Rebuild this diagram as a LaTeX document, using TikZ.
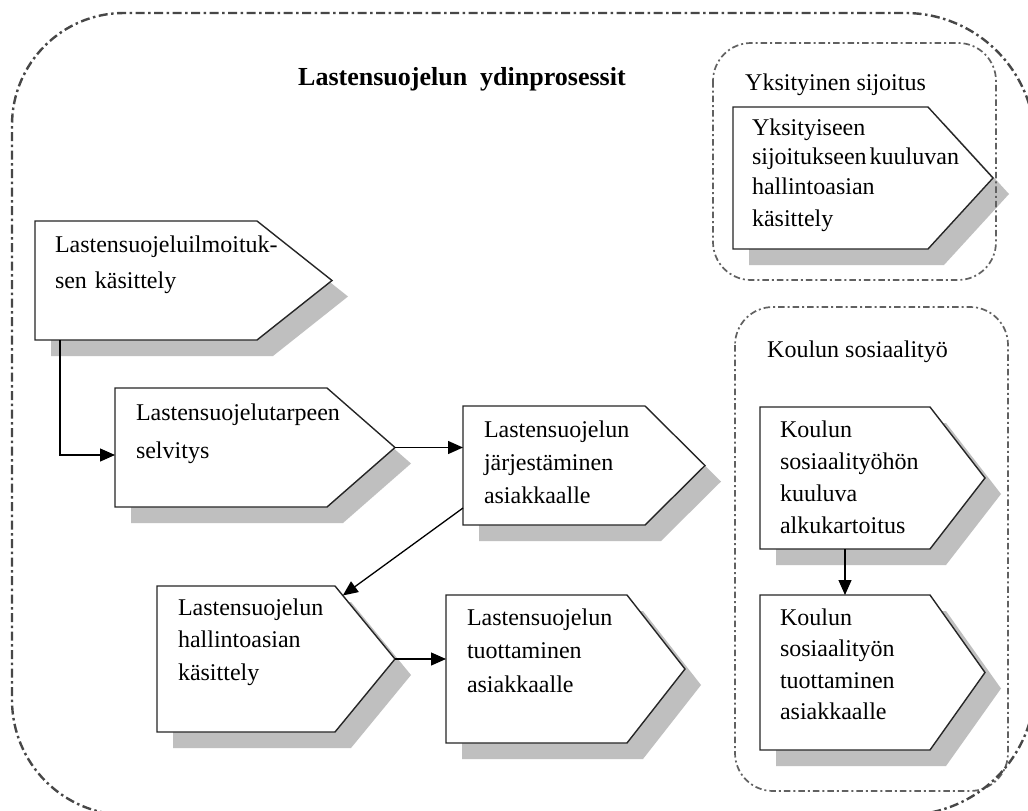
\documentclass[tikz,border=0pt]{standalone}
\usepackage{fontspec}
\setmainfont{Liberation Serif}
\usetikzlibrary{arrows.meta,calc,fit}

\tikzset{
  shadowfill/.style={fill=black!25},
  boxline/.style={draw=black!85, line width=1.4pt, fill=white, line join=miter},
  conn/.style={draw=black, line width=1.3pt, -{Triangle[length=15pt,width=13pt]}},
  outerframe/.style={draw=black!72, line width=2.4pt,
    dash pattern=on 9pt off 3.5pt on 2.5pt off 3.5pt},
  innerframe/.style={draw=black!62, line width=1.7pt,
    dash pattern=on 6.5pt off 3pt on 2pt off 3pt, rounded corners=38pt},
  boxtext/.style={inner sep=0pt, outer sep=0pt, anchor=base west, text width=280pt,
    align=left, font=\fontsize{24}{#1}\selectfont},
  boxtext/.default=32,
  labeltext/.style={inner sep=0pt, anchor=base west, font=\fontsize{24}{28}\selectfont},
  titletext/.style={inner sep=0pt, anchor=base west, font=\fontsize{26}{30}\selectfont\bfseries},
}

% process box: name, left x, top y, x where the point starts, tip x, bottom y
\newcommand\procbox[6]{%
  \fill[shadowfill] (#2+16,#3+16) -- (#4+16,#3+16) -- (#5+16,{(#3+#6)/2+16})
    -- (#4+16,#6+16) -- (#2+16,#6+16) -- cycle;
  \draw[boxline] (#2,#3) -- (#4,#3) -- (#5,{(#3+#6)/2}) -- (#4,#6) -- (#2,#6) -- cycle;
  \path (#2,#3) coordinate (#1-nw) (#4,#3) coordinate (#1-ne)
        (#5,{(#3+#6)/2}) coordinate (#1-tip) (#4,#6) coordinate (#1-se);
  \node[inner sep=0pt, outer sep=0pt, fit=(#1-nw)(#1-se)] (#1) {};
}

\begin{document}
\begin{tikzpicture}[x=1pt,y=-1pt]
\useasboundingbox (0,0) rectangle (1028,811);
\fill[white] (0,0) rectangle (1028,811);

% title
\node[titletext] (title) at (298,85) {Lastensuojelun\ \ ydinprosessit};

% process boxes
\procbox{A}{35}{221}{257}{332}{340}
\node[boxtext=36] (A-t) at (55,252) {Lastensuojeluilmoituk-\\sen käsittely};

\procbox{B}{115}{388}{327}{395}{507}
\node[boxtext=38] (B-t) at (136,420) {Lastensuojelutarpeen\\selvitys};

\procbox{C}{463}{406}{645}{705}{525}
\node[boxtext=33] (C-t) at (484,437) {Lastensuojelun\\järjestäminen\\asiakkaalle};

\procbox{D}{157}{586}{335}{395}{732}
\node[boxtext=32.5] (D-t) at (178,615) {Lastensuojelun\\hallintoasian\\käsittely};

\procbox{E}{446}{595}{627}{685}{743}
\node[boxtext=33.5] (E-t) at (467,625) {Lastensuojelun\\tuottaminen\\asiakkaalle};

\procbox{F}{733}{107}{928}{993}{249}
\node[boxtext=29.5] (F-t) at (752,135) {Yksityiseen\\sijoitukseen\hspace{3pt}kuuluvan\\hallintoasian\\[3pt]käsittely};

\procbox{G}{760}{407}{930}{985}{549}
\node[boxtext=32] (G-t) at (780,437) {Koulun\\sosiaalityöhön\\kuuluva\\alkukartoitus};

\procbox{H}{760}{595}{930}{985}{750}
\node[boxtext=31.5] (H-t) at (780,625) {Koulun\\sosiaalityön\\tuottaminen\\asiakkaalle};

% connectors
\draw[conn] ([xshift=25pt]A.south west) |- ([yshift=-7.5pt]B.west);
\draw[conn] (B-tip) -- (B-tip -| C.west);
\draw[conn] ([yshift=-42.5pt]C.west) -- ($(D-ne)!0.13!(D-tip)$);
\draw[conn] (D-tip) -- (D-tip -| E.west);
\draw[conn] (G.south) -- (G.south |- H.north);

% group frames
\draw[innerframe] (713,43) rectangle (996,280);
\node[labeltext] (Y-lab) at (745,90) {Yksityinen sijoitus};

\draw[innerframe] (735,307) rectangle (1008,791);
\node[labeltext] (K-lab) at (767,357) {Koulun sosiaalityö};

% outer frame
\draw[outerframe] (12,400) -- (12,125) arc[start angle=180, end angle=270, radius=112]
  -- (905,13) arc[start angle=270, end angle=360, radius=130]
  -- (1035,685) arc[start angle=0, end angle=90, radius=130]
  -- (127,815) arc[start angle=90, end angle=180, radius=115] -- cycle;
\end{tikzpicture}
\end{document}
